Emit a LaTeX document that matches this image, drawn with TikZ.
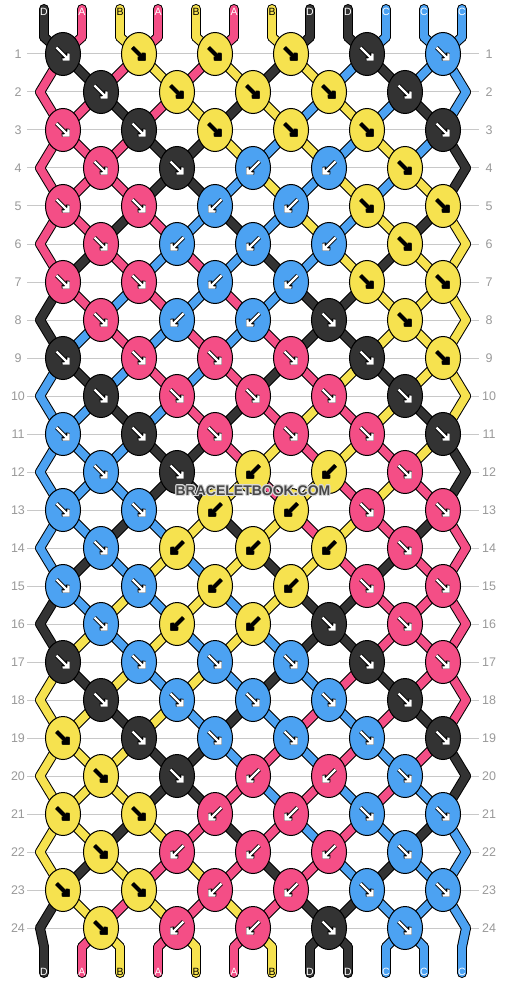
\documentclass[tikz,border=0pt]{standalone}
\usepackage{fontspec}
\setmainfont{Liberation Sans}
\usepackage{contour}
\contourlength{0.9pt}
\usetikzlibrary{shapes.geometric,arrows.meta}
\definecolor{thrA}{HTML}{F44E86}
\definecolor{thrB}{HTML}{F6E24F}
\definecolor{thrC}{HTML}{4CA2F2}
\definecolor{thrD}{HTML}{333333}
\definecolor{guidegray}{HTML}{C8C8C8}
\definecolor{numgray}{HTML}{999999}

\begin{document}
\begin{tikzpicture}[x=1pt, y=-1pt,
    strand/.style={line cap=round, line join=round},
    knot/.style={ellipse, draw=black, line width=1pt, minimum width=35pt, minimum height=43pt, inner sep=0pt},
    tip/.style={-{Straight Barb[length=4pt,width=8.5pt]}, line cap=butt},
    arrA/.style={white}, arrB/.style={black}, arrC/.style={white}, arrD/.style={white},
    rownum/.style={text=numgray, font=\fontsize{12.5}{14}\selectfont},
    letter/.style={font=\fontsize{10.5}{12}\selectfont, inner sep=0pt},
    guide/.style={guidegray, line width=1pt}]
  \useasboundingbox (0,0) rectangle (506,984);

  % guide lines and row numbers
  \foreach \r in {1,...,24}{
    \pgfmathsetmacro\y{54+38*(\r-1)}
    \draw[guide] (27,\y) -- (479,\y);
    \node[rownum] (nl-\r) at (18,\y) {\r};
    \node[rownum] (nr-\r) at (489,\y) {\r};
  }

  % thread positions
  \foreach \p in {0,...,11}{
    \coordinate (top-\p) at ({44+38*\p},9);
    \coordinate (p-0-\p) at ({44+38*\p},37);
    \coordinate (p-25-\p) at ({44+38*\p},947);
    \coordinate (bot-\p) at ({44+38*\p},973);
  }
  \foreach \r in {1,...,24}{
    \pgfmathsetmacro\y{54+38*(\r-1)}
    \ifodd\r\relax
      \foreach \p in {0,...,11}{
        \pgfmathtruncatemacro\k{int(\p/2)}
        \coordinate (p-\r-\p) at ({63+76*\k},\y);
      }
    \else
      \coordinate (p-\r-0) at (40,\y);
      \coordinate (p-\r-11) at (466,\y);
      \foreach \p in {1,...,10}{
        \pgfmathtruncatemacro\k{int((\p-1)/2)}
        \coordinate (p-\r-\p) at ({101+76*\k},\y);
      }
    \fi
  }

  % threads: black outline first, colour on top
  \foreach \w/\amt in {10/0,8/100}{
    \foreach \st [count=\r from 0] in {
        {D,A,B,A,B,A,B,D,D,C,C,C},{A,D,A,B,A,B,D,B,C,D,C,C},
        {A,A,D,A,B,D,B,C,B,C,D,C},{A,A,A,D,D,B,C,B,C,B,C,D},
        {A,A,A,D,D,C,B,C,B,C,B,D},{A,A,D,A,C,D,C,B,C,B,D,B},
        {A,D,A,C,A,C,D,C,B,D,B,B},{D,A,C,A,C,A,C,D,D,B,B,B},
        {D,C,A,C,A,C,A,D,D,B,B,B},{C,D,C,A,C,A,D,A,B,D,B,B},
        {C,C,D,C,A,D,A,B,A,B,D,B},{C,C,C,D,D,A,B,A,B,A,B,D},
        {C,C,C,D,D,B,A,B,A,B,A,D},{C,C,D,C,B,D,B,A,B,A,D,A},
        {C,D,C,B,C,B,D,B,A,D,A,A},{D,C,B,C,B,C,B,D,D,A,A,A},
        {D,B,C,B,C,B,C,D,D,A,A,A},{B,D,B,C,B,C,D,C,A,D,A,A},
        {B,B,D,B,C,D,C,A,C,A,D,A},{B,B,B,D,D,C,A,C,A,C,A,D},
        {B,B,B,D,D,A,C,A,C,A,C,D},{B,B,D,B,A,D,A,C,A,C,D,C},
        {B,D,B,A,B,A,D,A,C,D,C,C},{D,B,A,B,A,B,A,D,D,C,C,C},
        {D,A,B,A,B,A,B,D,D,C,C,C}}{
      \pgfmathtruncatemacro\rn{\r+1}
      \foreach \c [count=\p from 0] in \st
        \draw[strand, line width=\w pt, draw=thr\c!\amt!black] (p-\r-\p) -- (p-\rn-\p);
    }
    \foreach \c [count=\p from 0] in {D,A,B,A,B,A,B,D,D,C,C,C}{
      \draw[strand, line width=\w pt, draw=thr\c!\amt!black] (top-\p) -- (p-0-\p);
      \draw[strand, line width=\w pt, draw=thr\c!\amt!black] (p-25-\p) -- (bot-\p);
    }
  }

  % end letters
  \foreach \c [count=\p from 0] in {D,A,B,A,B,A,B,D,D,C,C,C}{
    \node[letter, arr\c] (lt-\p) at ({44+38*\p},12) {\c};
    \node[letter, arr\c] (lb-\p) at ({44+38*\p},972) {\c};
  }

  % knots (1 = forward, -1 = backward)
  \foreach \kl [count=\r] in {
      {D/1,B/1,B/1,B/1,D/1,C/1},{D/1,B/1,B/1,B/1,D/1},
      {A/1,D/1,B/1,B/1,B/1,D/1},{A/1,D/1,C/-1,C/-1,B/1},
      {A/1,A/1,C/-1,C/-1,B/1,B/1},{A/1,C/-1,C/-1,C/-1,B/1},
      {A/1,A/1,C/-1,C/-1,B/1,B/1},{A/1,C/-1,C/-1,D/1,B/1},
      {D/1,A/1,A/1,A/1,D/1,B/1},{D/1,A/1,A/1,A/1,D/1},
      {C/1,D/1,A/1,A/1,A/1,D/1},{C/1,D/1,B/-1,B/-1,A/1},
      {C/1,C/1,B/-1,B/-1,A/1,A/1},{C/1,B/-1,B/-1,B/-1,A/1},
      {C/1,C/1,B/-1,B/-1,A/1,A/1},{C/1,B/-1,B/-1,D/1,A/1},
      {D/1,C/1,C/1,C/1,D/1,A/1},{D/1,C/1,C/1,C/1,D/1},
      {B/1,D/1,C/1,C/1,C/1,D/1},{B/1,D/1,A/-1,A/-1,C/1},
      {B/1,B/1,A/-1,A/-1,C/1,C/1},{B/1,A/-1,A/-1,A/-1,C/1},
      {B/1,B/1,A/-1,A/-1,C/1,C/1},{B/1,A/-1,A/-1,D/1,C/1}}{
    \pgfmathsetmacro\y{54+38*(\r-1)}
    \ifodd\r\relax \def\xs{63}\else\def\xs{101}\fi
    \foreach \c/\d [count=\i from 0] in \kl {
      \node[knot, fill=thr\c] (k-\r-\i) at ({\xs+76*\i},\y) {};
      \draw[tip, black, line width=4pt]
        ([shift={({-6.5*(\d)},-6.5)}]k-\r-\i.center) -- ([shift={({6.5*(\d)},6.5)}]k-\r-\i.center);
      \draw[tip, arr\c, line width=2.4pt]
        ([shift={({-6.5*(\d)},-6.5)}]k-\r-\i.center) -- ([shift={({6.5*(\d)},6.5)}]k-\r-\i.center);
    }
  }

  % watermark
  \node[font=\bfseries\fontsize{14}{16}\selectfont, text=black!72] (mark) at (253,491)
    {\contour{white!85!black}{BRACELETBOOK.COM}};
\end{tikzpicture}
\end{document}
